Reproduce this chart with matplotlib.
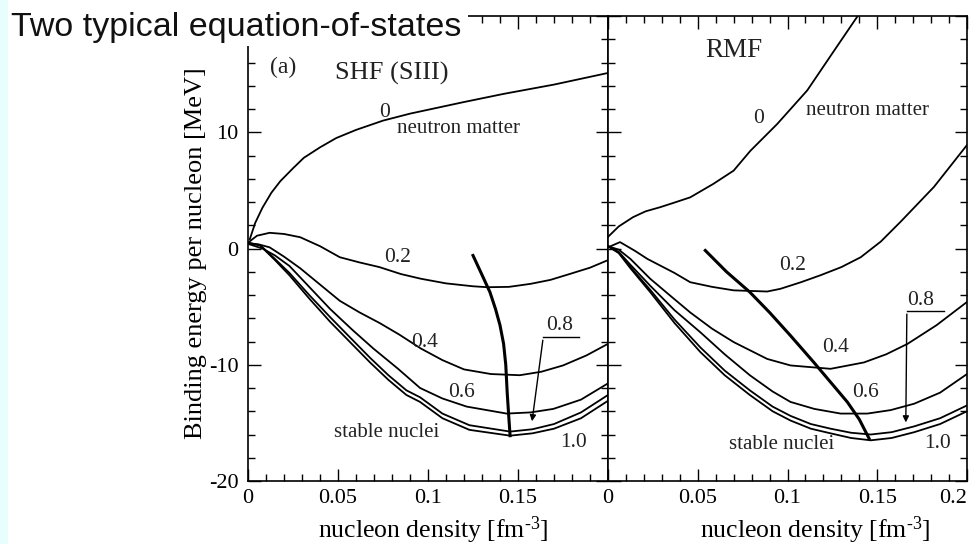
import matplotlib
matplotlib.use("Agg")
import matplotlib.pyplot as plt
from matplotlib.patches import Rectangle
from matplotlib.ticker import MultipleLocator

plt.rcParams['font.family'] = ['Liberation Serif', 'DejaVu Serif']
plt.rcParams['axes.unicode_minus'] = False
plt.rcParams['mathtext.fontset'] = 'custom'
plt.rcParams['mathtext.rm'] = 'Liberation Serif'
plt.rcParams['mathtext.it'] = 'Liberation Serif:italic'

# ---- SHF (SIII) panel ----
shf_nm_x = [0.001, 0.004, 0.008, 0.013, 0.018, 0.025, 0.031, 0.04, 0.049, 0.06, 0.075, 0.09, 0.105, 0.12, 0.142, 0.17, 0.2]
shf_nm_y = [0.8, 2.2, 3.5, 4.8, 5.8, 6.9, 7.8, 8.7, 9.5, 10.2, 11.0, 11.6, 12.1, 12.6, 13.3, 14.1, 15.1]

shf_02_x = [0, 0.005, 0.012, 0.02, 0.029, 0.04, 0.051, 0.062, 0.073, 0.085, 0.096, 0.11, 0.125, 0.133, 0.145, 0.157, 0.168, 0.179, 0.19, 0.2]
shf_02_y = [0.5, 1.1, 1.35, 1.25, 0.97, 0.2, -0.75, -1.2, -1.6, -2.2, -2.6, -3.0, -3.25, -3.33, -3.3, -3.04, -2.7, -2.18, -1.65, -1.0]

shf_04_x = [0, 0.006, 0.012, 0.02, 0.029, 0.04, 0.051, 0.062, 0.073, 0.084, 0.096, 0.108, 0.12, 0.135, 0.151, 0.163, 0.175, 0.188, 0.2]
shf_04_y = [0.4, 0.35, 0.1, -0.7, -1.7, -3.1, -4.5, -5.5, -6.4, -7.4, -8.6, -9.6, -10.4, -10.8, -10.9, -10.6, -10.06, -9.2, -8.2]

shf_06_x = [0, 0.008, 0.015, 0.023, 0.034, 0.0456, 0.058, 0.0696, 0.083, 0.0956, 0.108, 0.1215, 0.1437, 0.157, 0.1696, 0.185, 0.2]
shf_06_y = [0.4, 0.0, -0.6, -1.5, -3.3, -5.2, -7.0, -8.6, -10.3, -12.0, -12.9, -13.6, -14.2, -14.1, -13.8, -13.0, -11.6]

shf_sn_x = [0, 0.0067, 0.015, 0.023, 0.034, 0.0456, 0.057, 0.0678, 0.078, 0.088, 0.0956, 0.108, 0.123, 0.1456, 0.158, 0.17, 0.185, 0.2]
shf_08_y = [0.5, 0.3, -0.9, -2.1, -4.0, -5.9, -7.7, -9.4, -10.9, -12.2, -12.8, -14.2, -15.2, -15.75, -15.55, -15.1, -14.1, -12.6]
shf_10_y = [0.5, 0.26, -1.0, -2.3, -4.3, -6.3, -8.1, -9.8, -11.3, -12.6, -13.2, -14.6, -15.6, -16.1, -15.9, -15.5, -14.6, -13.1]

shf_sat_x = [0.125, 0.1295, 0.1344, 0.1375, 0.14, 0.142, 0.1432, 0.144, 0.1448, 0.1456]
shf_sat_y = [-0.6, -2.1, -3.75, -5.2, -6.6, -8.2, -10.0, -12.4, -14.3, -16.1]

# ---- RMF panel ----
rmf_nm_x = [0.0, 0.006, 0.014, 0.021, 0.029, 0.037, 0.0458, 0.0587, 0.07, 0.0793, 0.0942, 0.111, 0.1259, 0.138, 0.1405]
rmf_nm_y = [1.0, 1.9, 2.7, 3.2, 3.55, 3.95, 4.4, 5.56, 6.7, 8.4, 10.7, 13.6, 17.0, 19.75, 20.3]

rmf_02_x = [0, 0.0067, 0.015, 0.022, 0.029, 0.037, 0.0458, 0.058, 0.07, 0.0887, 0.096, 0.1075, 0.1184, 0.13, 0.1408, 0.152, 0.163, 0.1816, 0.2]
rmf_02_y = [0.1, 0.55, -0.2, -0.9, -1.46, -2.1, -2.9, -3.3, -3.6, -3.7, -3.47, -2.9, -2.3, -1.6, -0.75, 0.6, 2.3, 5.3, 8.9]

rmf_04_x = [0, 0.006, 0.0125, 0.0235, 0.035, 0.0458, 0.058, 0.07, 0.0887, 0.1017, 0.124, 0.1426, 0.155, 0.1669, 0.183, 0.2]
rmf_04_y = [0.2, -0.1, -0.9, -2.6, -4.1, -5.5, -6.9, -8.05, -9.5, -10.06, -10.35, -9.8, -9.1, -8.2, -6.6, -4.6]

rmf_06_x = [0, 0.006, 0.0125, 0.0235, 0.037, 0.0514, 0.065, 0.079, 0.0917, 0.1017, 0.115, 0.1296, 0.1445, 0.1575, 0.1706, 0.185, 0.2]
rmf_06_y = [0.2, -0.3, -1.4, -3.2, -5.3, -7.2, -9.1, -10.9, -12.3, -13.2, -13.8, -14.2, -14.2, -13.9, -13.35, -12.4, -10.8]

rmf_sn_x = [0, 0.006, 0.0125, 0.0235, 0.037, 0.0514, 0.065, 0.079, 0.0917, 0.1017, 0.113, 0.124, 0.1354, 0.1464, 0.158, 0.1706, 0.185, 0.2]
rmf_08_y = [0.2, -0.35, -1.6, -3.55, -6.1, -8.5, -10.5, -12.2, -13.6, -14.4, -15.1, -15.5, -15.85, -16.0, -15.8, -15.3, -14.6, -13.5]
rmf_10_y = [0.2, -0.4, -1.7, -3.75, -6.4, -8.9, -10.9, -12.6, -14.0, -14.8, -15.5, -15.9, -16.3, -16.5, -16.3, -15.8, -15.1, -14.0]

rmf_sat_x = [0.0542, 0.066, 0.079, 0.09, 0.1017, 0.1147, 0.124, 0.1333, 0.14, 0.1455]
rmf_sat_y = [-0.17, -2.0, -3.75, -5.5, -7.5, -9.8, -11.5, -13.2, -14.7, -16.36]

# arrow for the 0.8 label: bar ends, then arrow tip
shf_arrow_x = [0.184, 0.164, 0.1576]
shf_arrow_y = [-7.65, -7.65, -15.1]
rmf_arrow_x = [0.1873, 0.1665, 0.1659]
rmf_arrow_y = [-5.4, -5.4, -15.2]

xtick_vals = [0, 0.05, 0.1, 0.15, 0.2]
xtick_labels = ['0', '0.05', '0.1', '0.15', '0.2']
ytick_vals = [-20, -10, 0, 10, 20]
ytick_labels = ['-20', '-10', '0', '10', '']

fig = plt.figure(figsize=(9.77, 5.44), dpi=100)
axL = fig.add_axes([248/977, 1-481/544, 360/977, 465/544])
axR = fig.add_axes([608/977, 1-481/544, 359/977, 465/544])

lw = 1.3
for ax in (axL, axR):
    ax.set_xlim(0, 0.2)
    ax.set_ylim(-20, 20)
    ax.xaxis.set_minor_locator(MultipleLocator(0.01))
    ax.yaxis.set_minor_locator(MultipleLocator(2))
    ax.set_xticks(xtick_vals)
    ax.set_yticks(ytick_vals)
    ax.tick_params(which='both', direction='in', top=True, right=True, width=1)
    ax.tick_params(which='major', length=9, labelsize=16, pad=6)
    ax.tick_params(which='minor', length=5)
    for s in ax.spines.values():
        s.set_linewidth(1.2)
    ax.set_xlabel(r'nucleon density [fm$^{\text{-3}}$]', fontsize=18.5)

axL.set_xticklabels(xtick_labels[:-1] + [''])
axR.set_xticklabels(xtick_labels)
axR.get_xticklabels()[-1].set_horizontalalignment('right')
axL.set_yticklabels(ytick_labels)
axR.set_yticklabels([])
axL.tick_params(axis='y', pad=7)
axL.set_ylabel('Binding energy per nucleon [MeV]', fontsize=19)
axL.yaxis.set_label_coords(-0.115, 0.49)
axL.xaxis.set_label_coords(0.514, -0.071)
axR.xaxis.set_label_coords(0.578, -0.071)

# left panel curves
axL.plot(shf_nm_x, shf_nm_y, color='black', lw=lw)
axL.plot(shf_02_x, shf_02_y, color='black', lw=lw)
axL.plot(shf_04_x, shf_04_y, color='black', lw=lw)
axL.plot(shf_06_x, shf_06_y, color='black', lw=lw)
axL.plot(shf_sn_x, shf_08_y, color='black', lw=lw)
axL.plot(shf_sn_x, shf_10_y, color='black', lw=lw)
axL.plot(shf_sat_x, shf_sat_y, color='black', lw=2.2)

# right panel curves
axR.plot(rmf_nm_x, rmf_nm_y, color='black', lw=lw)
axR.plot(rmf_02_x, rmf_02_y, color='black', lw=lw)
axR.plot(rmf_04_x, rmf_04_y, color='black', lw=lw)
axR.plot(rmf_06_x, rmf_06_y, color='black', lw=lw)
axR.plot(rmf_sn_x, rmf_08_y, color='black', lw=lw)
axR.plot(rmf_sn_x, rmf_10_y, color='black', lw=lw)
axR.plot(rmf_sat_x, rmf_sat_y, color='black', lw=2.2)

for ax, axx, axy in ((axL, shf_arrow_x, shf_arrow_y), (axR, rmf_arrow_x, rmf_arrow_y)):
    ax.plot(axx[:2], axy[:2], color='black', lw=1)
    ax.annotate('', xy=(axx[2], axy[2]), xytext=(axx[1], axy[1]),
                arrowprops=dict(arrowstyle='-|>', color='black', lw=1, mutation_scale=9))

# labels, left
tk = dict(ha='center', va='center', color='#222222')
axL.text(0.0194, 15.6, '(a)', fontsize=17, **tk)
axL.text(0.08, 15.1, 'SHF (SIII)', fontsize=19, **tk)
axL.text(0.076, 11.7, '0', fontsize=15.5, **tk)
axL.text(0.1167, 10.3, 'neutron matter', fontsize=15, **tk)
axL.text(0.0833, -0.75, '0.2', fontsize=15.5, **tk)
axL.text(0.098, -8.05, '0.4', fontsize=15.5, **tk)
axL.text(0.1187, -12.35, '0.6', fontsize=15.5, **tk)
axL.text(0.173, -6.6, '0.8', fontsize=15.5, **tk)
axL.text(0.1806, -16.65, '1.0', fontsize=15.5, **tk)
axL.text(0.077, -15.8, 'stable nuclei', fontsize=15, **tk)

# labels, right
axR.text(0.07, 17.0, 'RMF', fontsize=19.5, **tk)
axR.text(0.0838, 11.15, '0', fontsize=15.5, **tk)
axR.text(0.1445, 11.9, 'neutron matter', fontsize=15, **tk)
axR.text(0.1026, -1.46, '0.2', fontsize=15.5, **tk)
axR.text(0.1268, -8.5, '0.4', fontsize=15.5, **tk)
axR.text(0.1436, -12.35, '0.6', fontsize=15.5, **tk)
axR.text(0.1743, -4.47, '0.8', fontsize=15.5, **tk)
axR.text(0.1836, -16.8, '1.0', fontsize=15.5, **tk)
axR.text(0.097, -16.9, 'stable nuclei', fontsize=15, **tk)

# left light strip and title box over the top-left corner
fig.patches.append(Rectangle((0, 0), 8/977, 1, transform=fig.transFigure,
                             facecolor='#e8fdfd', edgecolor='none', zorder=3))
fig.patches.append(Rectangle((8/977, 1-46/544), 460/977, 46/544, transform=fig.transFigure,
                             facecolor='white', edgecolor='none', zorder=3))
fig.text(11/977, 1-36/544, 'Two typical equation-of-states', fontsize=24.5,
         family='Liberation Sans', color='#111111', va='baseline', ha='left', zorder=4)

fig.savefig('out.png', dpi=100)
